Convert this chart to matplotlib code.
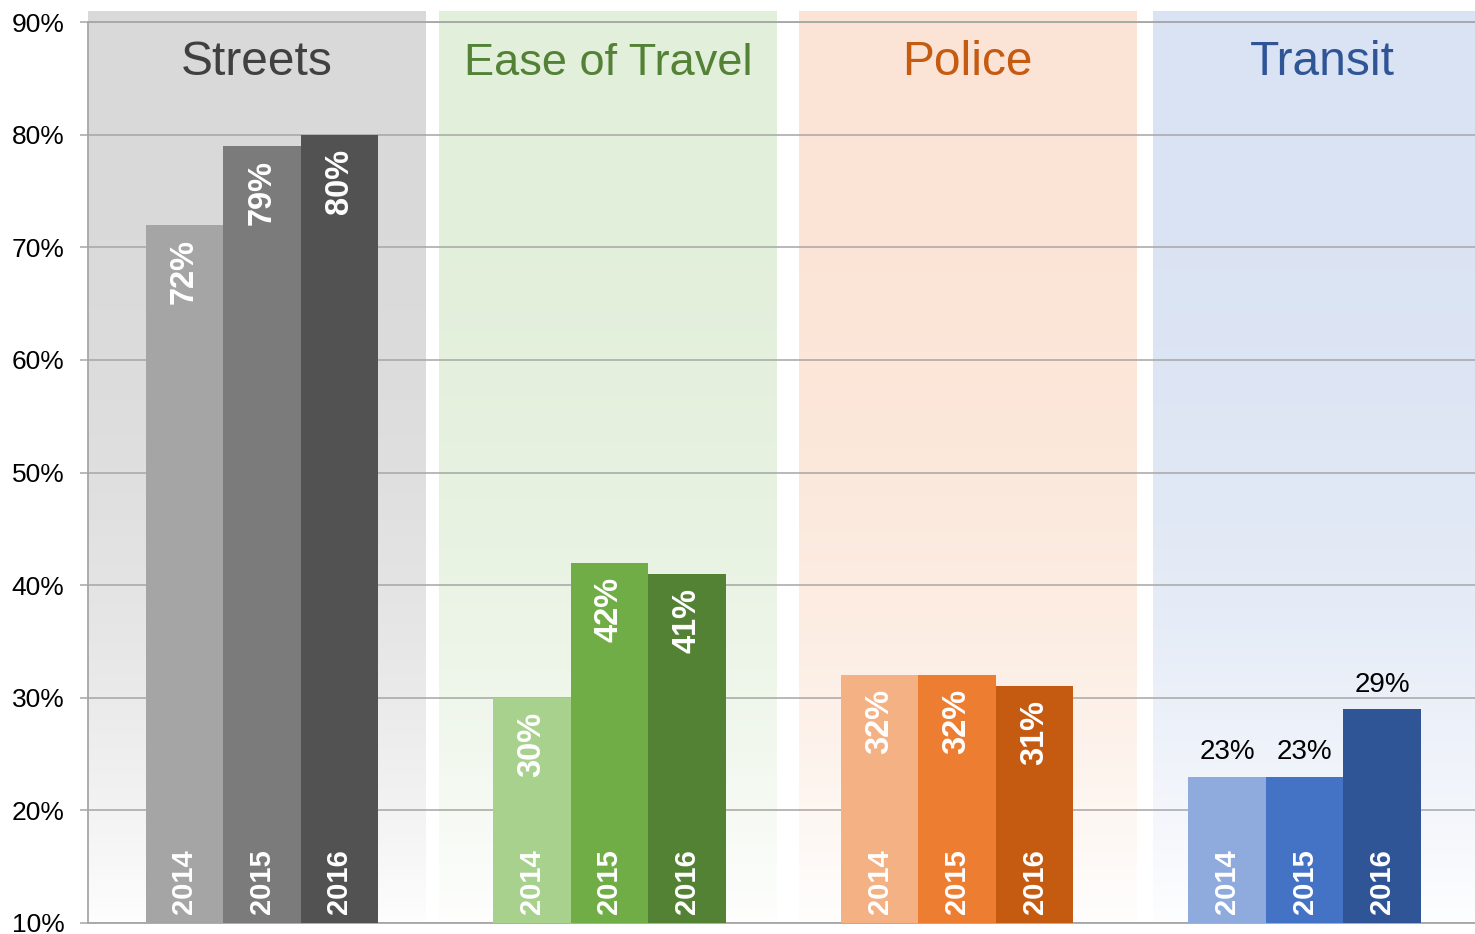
import numpy as np
import matplotlib
matplotlib.use("Agg")
import matplotlib.pyplot as plt
import matplotlib.colors as mcolors

plt.rcParams['font.family'] = ['Liberation Sans', 'DejaVu Sans']

# survey results, share of residents satisfied (%)
categories = ['Streets', 'Ease of Travel', 'Police', 'Transit']
years = ['2014', '2015', '2016']
streets = [72, 79, 80]
ease_of_travel = [30, 42, 41]
police = [32, 32, 31]
transit = [23, 23, 29]
values = [streets, ease_of_travel, police, transit]

# one shade per year, darker for later years
bar_colors = [
    ['#a5a5a5', '#7b7b7b', '#525252'],
    ['#a9d18e', '#70ad47', '#548235'],
    ['#f4b183', '#ed7d31', '#c55a11'],
    ['#8faadc', '#4472c4', '#2f5597'],
]
panel_colors = ['#d9d9d9', '#e2efda', '#fbe4d5', '#dae3f3']
title_colors = ['#404040', '#538135', '#c55a11', '#2f5597']
title_sizes = [34.5, 32.5, 34.5, 34.5]
panel_left = [-0.5, 0.51, 1.545, 2.565]
panel_width = 0.972
panel_top = 90.9

yticks = [10, 20, 30, 40, 50, 60, 70, 80, 90]
grid_color = '#a6a6a6'
bar_w = 0.223

fig = plt.figure(figsize=(14.75, 9.34), dpi=100)
ax = fig.add_axes([0.0597, 0.0118, 0.9403, 0.9646])

# background panels fading to white towards the bottom
t = np.linspace(0, 1, 400) ** 2.6 * 0.96
for left, pc in zip(panel_left, panel_colors):
    rgb = np.array(mcolors.to_rgb(pc))
    grad = rgb[None, :] * (1 - t[:, None]) + t[:, None]
    im = ax.imshow(grad[:, None, :], extent=(left, left + panel_width, 10, panel_top),
                   aspect='auto', zorder=0, interpolation='bilinear')
    im.set_clip_on(False)

for gi, (cat, vals) in enumerate(zip(categories, values)):
    xs = gi + (np.arange(len(years)) - 1) * bar_w
    ax.bar(xs, np.array(vals) - 10, bottom=10, width=bar_w,
           color=bar_colors[gi], zorder=3, linewidth=0)
    ax.text(panel_left[gi] + panel_width / 2, 85.3, cat, ha='center', va='baseline',
            fontsize=title_sizes[gi], color=title_colors[gi], zorder=4, clip_on=False)
    for x, v, yr in zip(xs, vals, years):
        ax.annotate(yr, (x, 10), xytext=(0, 6.5), textcoords='offset points',
                    rotation=90, ha='center', va='bottom', fontsize=21,
                    fontweight='bold', color='white', zorder=5)
        if cat == 'Transit':
            ax.annotate(f'{v}%', (x, v), xytext=(0, 8), textcoords='offset points',
                        ha='center', va='bottom', fontsize=20, color='black', zorder=5)
        else:
            ax.annotate(f'{v}%', (x, v), xytext=(0, -10), textcoords='offset points',
                        rotation=90, ha='center', va='top', fontsize=23.5,
                        fontweight='bold', color='white', zorder=5)

ax.set_xlim(-0.5, 3.49)
ax.set_ylim(10, 90)
ax.set_yticks(yticks)
ax.set_yticklabels([f'{v}%' for v in yticks])
ax.set_xticks([])
ax.tick_params(axis='y', labelsize=19, length=6, width=1.1, color=grid_color, pad=11)

ax.set_axisbelow(True)
ax.yaxis.grid(True, color=grid_color, linewidth=1.1, zorder=0.5)

for side in ['left', 'bottom', 'top']:
    ax.spines[side].set_color(grid_color)
    ax.spines[side].set_linewidth(1.3)
ax.spines['right'].set_visible(False)
ax.patch.set_alpha(0)

fig.savefig('out.png', dpi=100)
